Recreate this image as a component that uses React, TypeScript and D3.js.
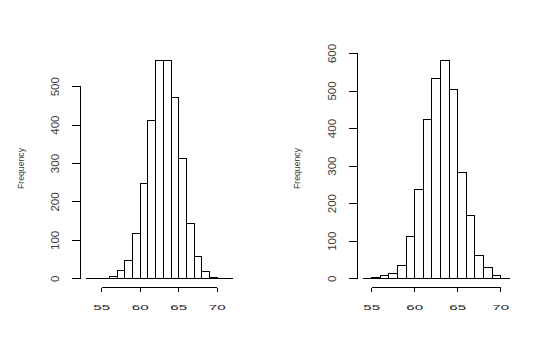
import { useEffect, useRef } from "react"
import * as d3 from "d3"

// histogram bins are 1 unit wide, starting at the given break
const leftStart = 53
const leftCounts = [1, 0, 1, 5, 22, 48, 119, 249, 411, 569, 569, 472, 312, 144, 59, 20, 4, 1, 1]
const leftYTicks = [0, 100, 200, 300, 400, 500]

const rightStart = 54
const rightCounts = [1, 3, 8, 13, 35, 112, 238, 425, 534, 582, 505, 283, 169, 61, 29, 9, 1]
const rightYTicks = [0, 100, 200, 300, 400, 500, 600]

const xTicks = [55, 60, 65, 70]
const yLabel = "Frequency"

export default function App() {
  const svgRef = useRef<SVGSVGElement>(null)

  useEffect(() => {
    if (!svgRef.current) return

    const width = 557
    const height = 351
    const svg = d3.select(svgRef.current).attr("width", width).attr("height", height)
    svg.selectAll("*").remove()

    const panels = [
      { start: leftStart, counts: leftCounts, yTicks: leftYTicks },
      { start: rightStart, counts: rightCounts, yTicks: rightYTicks },
    ]

    const plotTop = 51.5
    const plotH = 236
    const plotW = 158
    const font = "'Liberation Sans', Arial, sans-serif"
    const textCol = "#3a3a3a"

    panels.forEach((p, i) => {
      const left = 80.5 + i * 276.7
      const lo = p.start
      const hi = p.start + p.counts.length
      const maxC = d3.max(p.counts) as number
      const x = d3
        .scaleLinear()
        .domain([lo - 0.04 * (hi - lo), hi + 0.04 * (hi - lo)])
        .range([left, left + plotW])
      const y = d3
        .scaleLinear()
        .domain([-0.04 * maxC, 1.04 * maxC])
        .range([plotTop + plotH, plotTop])

      const g = svg.append("g").attr("shape-rendering", "crispEdges")

      // bars as closed paths so empty bins still show on the baseline
      g.selectAll(".bar")
        .data(p.counts)
        .enter()
        .append("path")
        .attr("d", (d, j) => {
          const x0 = x(lo + j)
          const x1 = x(lo + j + 1)
          return `M${x0},${y(0)}V${y(d)}H${x1}V${y(0)}Z`
        })
        .attr("fill", "white")
        .attr("stroke", "black")
        .attr("stroke-width", 1)
      g.append("line")
        .attr("x1", x(lo))
        .attr("x2", x(hi))
        .attr("y1", y(0))
        .attr("y2", y(0))
        .attr("stroke", "black")

      // x axis
      const axisY = plotTop + plotH
      g.append("line")
        .attr("x1", x(xTicks[0]))
        .attr("x2", x(xTicks[xTicks.length - 1]))
        .attr("y1", axisY)
        .attr("y2", axisY)
        .attr("stroke", "black")
      g.selectAll(".xt")
        .data(xTicks)
        .enter()
        .append("line")
        .attr("x1", (d) => x(d))
        .attr("x2", (d) => x(d))
        .attr("y1", axisY)
        .attr("y2", axisY + 4.5)
        .attr("stroke", "black")
      svg
        .append("g")
        .selectAll("text")
        .data(xTicks)
        .enter()
        .append("text")
        .attr("x", (d) => x(d))
        .attr("y", 310)
        .attr("text-anchor", "middle")
        .attr("font-family", font)
        .attr("font-size", "8px")
        .attr("fill", "#222")
        .attr("textLength", (d) => String(d).length * 8.4)
        .attr("lengthAdjust", "spacingAndGlyphs")
        .text((d) => d)

      // y axis
      g.append("line")
        .attr("x1", left)
        .attr("x2", left)
        .attr("y1", y(p.yTicks[0]))
        .attr("y2", y(p.yTicks[p.yTicks.length - 1]))
        .attr("stroke", "black")
      g.selectAll(".yt")
        .data(p.yTicks)
        .enter()
        .append("line")
        .attr("x1", left - 8.5)
        .attr("x2", left)
        .attr("y1", (d) => y(d))
        .attr("y2", (d) => y(d))
        .attr("stroke", "black")
      svg
        .append("g")
        .selectAll("text")
        .data(p.yTicks)
        .enter()
        .append("text")
        .attr("transform", (d) => `translate(${left - 21.5},${y(d)}) rotate(-90)`)
        .attr("text-anchor", "middle")
        .attr("font-family", font)
        .attr("font-size", "10px")
        .attr("fill", textCol)
        .attr("textLength", (d) => String(d).length * 6.4)
        .attr("lengthAdjust", "spacingAndGlyphs")
        .text((d) => d)

      svg
        .append("text")
        .attr("transform", `translate(${left - 57},${plotTop + plotH / 2 - 1}) rotate(-90)`)
        .attr("text-anchor", "middle")
        .attr("font-family", font)
        .attr("font-size", "9.5px")
        .attr("fill", textCol)
        .attr("textLength", 41)
        .attr("lengthAdjust", "spacingAndGlyphs")
        .text(yLabel)
    })
  }, [])

  return (
    <svg
      ref={svgRef}
      style={{ position: "absolute", left: 0, top: 0, background: "white" }}
    />
  )
}
